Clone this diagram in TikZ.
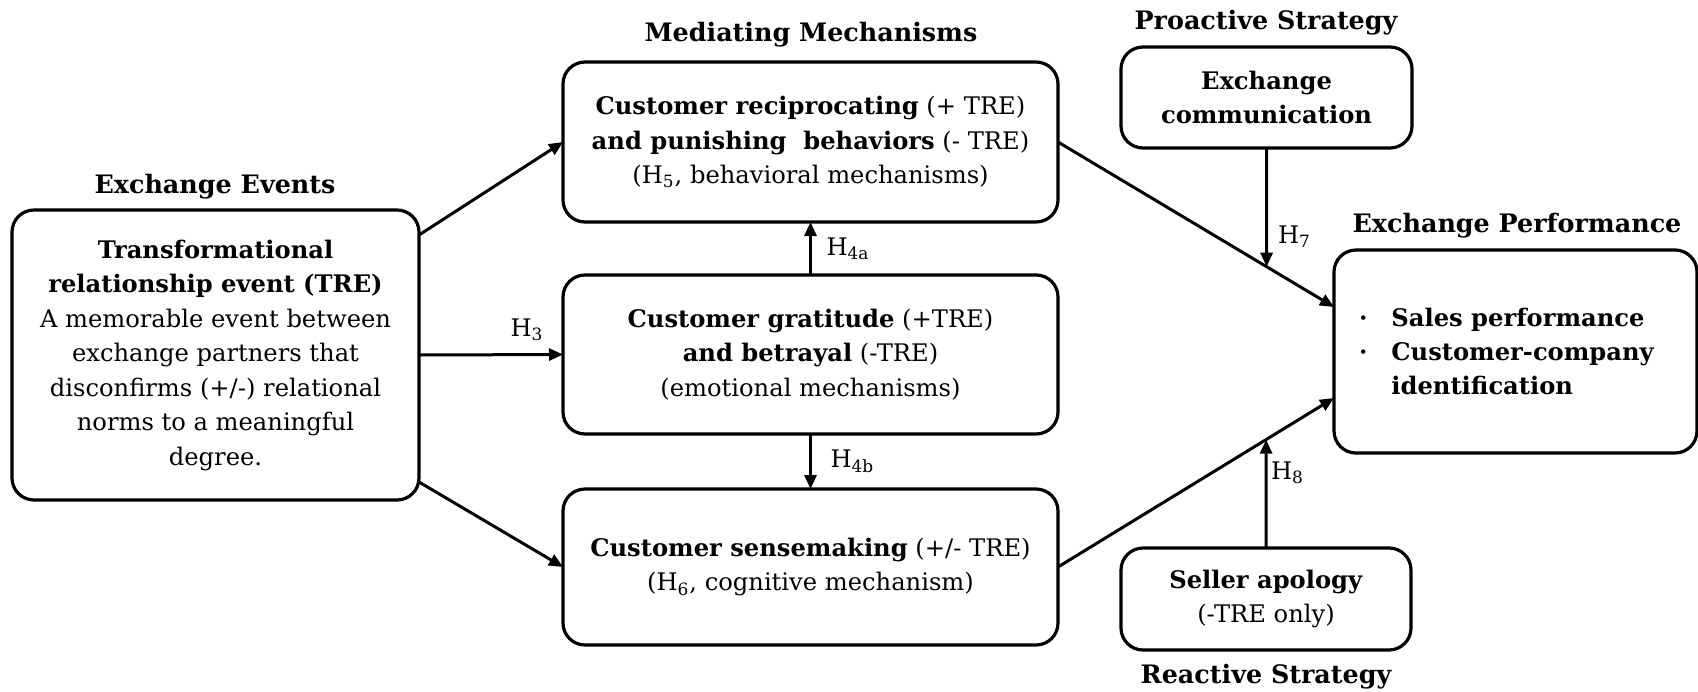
\documentclass[tikz,border=0pt]{standalone}
\usepackage{fontspec}
\setmainfont{DejaVu Serif}
\usetikzlibrary{arrows.meta,calc}
\begin{document}
\begin{tikzpicture}[x=0.5pt,y=-0.5pt,
  every node/.style={inner sep=0pt,outer sep=0pt},
  box/.style={draw,line width=1.6pt,rounded corners=11pt,align=center,
    font=\fontsize{12.1}{17.25}\selectfont},
  ttl/.style={font=\fontsize{12.7}{16}\selectfont\bfseries},
  hl/.style={font=\fontsize{12.1}{15}\selectfont},
  arr/.style={line width=1.5pt,-{Triangle[length=7pt,width=6pt]}}]
\useasboundingbox (0,0) rectangle (1698,691);
% titles
\node[ttl] (tEv) at (215,187) {Exchange Events};
\node[ttl] (tMed) at (811,35) {Mediating Mechanisms};
\node[ttl] (tPro) at (1266,23) {Proactive Strategy};
\node[ttl] (tPerf) at (1517,226) {Exchange Performance};
\node[ttl] (tRea) at (1266,677) {Reactive Strategy};
% boxes
\node[box,minimum width=203.5pt,minimum height=145pt] (L) at (215.5,355)
 {\textbf{Transformational}\\\textbf{relationship event (TRE)}\\A memorable event between\\exchange partners that\\disconfirms (+/-) relational\\norms to a meaningful\\degree.};
\node[box,minimum width=247.5pt,minimum height=80pt] (A) at (810.5,142)
 {\textbf{Customer reciprocating} (+ TRE)\\\textbf{and punishing\ \ behaviors} (- TRE)\\(H\textsubscript{5}, behavioral mechanisms)};
\node[box,minimum width=247.5pt,minimum height=79.5pt] (B) at (810.5,354.5)
 {\textbf{Customer gratitude} (+TRE)\\\textbf{and betrayal} (-TRE)\\(emotional mechanisms)};
\node[box,minimum width=247.5pt,minimum height=78pt] (C) at (810.5,567)
 {\textbf{Customer sensemaking} (+/- TRE)\\(H\textsubscript{6}, cognitive mechanism)};
\node[box,minimum width=145.5pt,minimum height=50.5pt] (P) at (1266.5,97.5)
 {\textbf{Exchange}\\\textbf{communication}};
\node[box,minimum width=145pt,minimum height=51pt] (R) at (1266,599)
 {\textbf{Seller apology}\\(-TRE only)};
\node[box,minimum width=181.5pt,minimum height=101.5pt] (E) at (1515.5,351.5) {};
\node[anchor=west,font=\fontsize{12.1}{17}\selectfont\bfseries] (Elist) at (1359,354)
 {\begin{tabular}{@{}l@{\hspace{12pt}}l@{}}·&Sales performance\\·&Customer-company\\&identification\end{tabular}};
% connector end points
\coordinate (L1) at ($(L.east)+(0,-120)$);
\coordinate (L2) at ($(L.east)+(0,127)$);
\coordinate (E1) at ($(E.west)+(0,-44.5)$);
\coordinate (E2) at ($(E.west)+(0,46.5)$);
\draw[arr] (L1) -- (A.west);
\draw[arr] (L.east) -- node[hl,above=7pt,pos=0.75] (h3) {H\textsubscript{3}} (B.west);
\draw[arr] (L2) -- (C.west);
\draw[arr] (B.north) -- node[hl,right=8pt] (h4a) {H\textsubscript{4a}} (A.south);
\draw[arr] (B.south) -- node[hl,right=10pt] (h4b) {H\textsubscript{4b}} (C.north);
\draw[arr] (A.east) -- (E1);
\draw[arr] (C.east) -- (E2);
\coordinate (pA) at (intersection of A.east--E1 and P.south--P.center);
\coordinate (pC) at (intersection of C.east--E2 and R.north--R.center);
\draw[arr] (P.south) -- (pA);
\draw[arr] (R.north) -- (pC);
\node[hl,anchor=west] (h7) at (1278,237) {H\textsubscript{7}};
\node[hl,anchor=west] (h8) at (1271,473) {H\textsubscript{8}};
\end{tikzpicture}
\end{document}
